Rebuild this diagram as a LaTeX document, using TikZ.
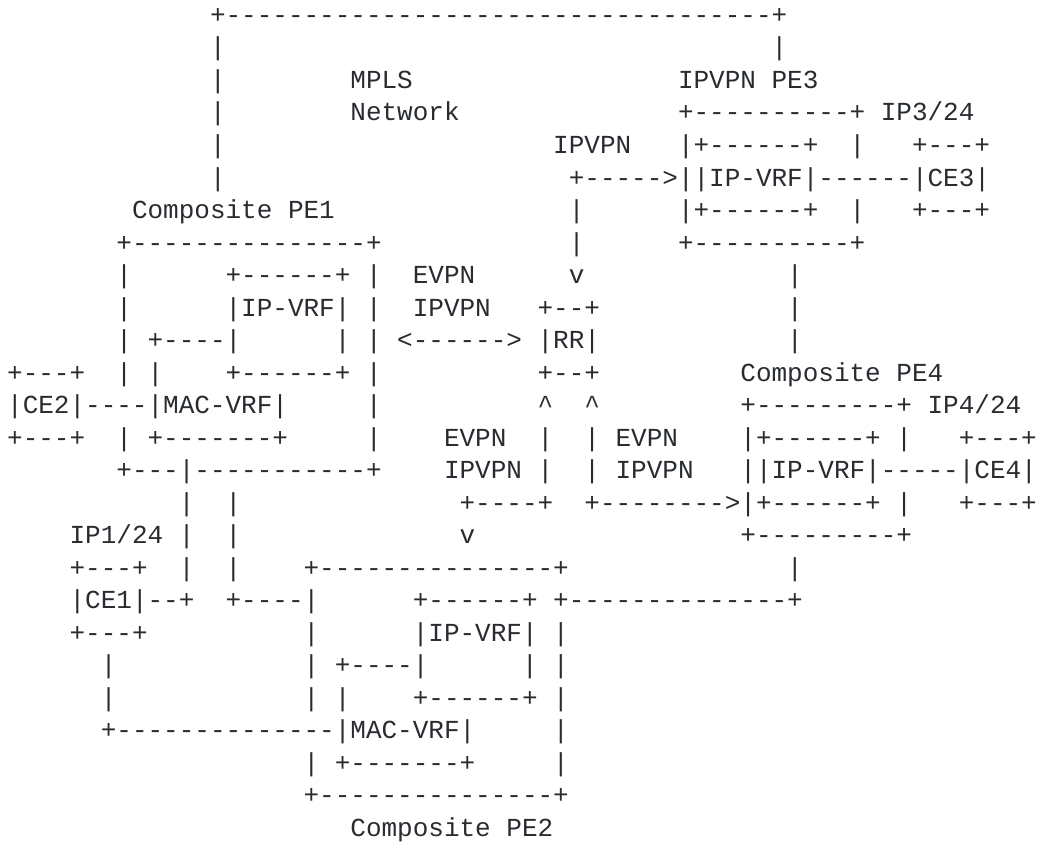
\documentclass[tikz,border=0pt]{standalone}
\usepackage{fontspec}
\setmonofont{Liberation Mono}
\definecolor{ink}{RGB}{40,44,48}
\begin{document}
\begin{tikzpicture}[x=11.7pt,y=-24.375pt,
  txt/.style={anchor=base west,inner sep=0pt,outer sep=0pt,text=ink,
    font=\ttfamily\fontsize{19.5pt}{24pt}\selectfont}]
\useasboundingbox[fill=white] (-0.4615,-0.7231) rectangle (66.2051,25.1538);
% row 0
\node[txt] (r0a) at (13,0) {+-----------------------------------+};
% row 1
\node[txt] (r1a) at (13,1) {|};
\node[txt] (r1b) at (49,1) {|};
% row 2
\node[txt] (r2a) at (13,2) {|};
\node[txt] (r2b) at (22,2) {MPLS};
\node[txt] (r2c) at (43,2) {IPVPN~PE3};
% row 3
\node[txt] (r3a) at (13,3) {|};
\node[txt] (r3b) at (22,3) {Network};
\node[txt] (r3c) at (43,3) {+----------+~IP3/24};
% row 4
\node[txt] (r4a) at (13,4) {|};
\node[txt] (r4b) at (35,4) {IPVPN};
\node[txt] (r4c) at (43,4) {|+------+~~|~~~+---+};
% row 5
\node[txt] (r5a) at (13,5) {|};
\node[txt] (r5b) at (36,5) {+----->||IP-VRF|------|CE3|};
% row 6
\node[txt] (r6a) at (8,6) {Composite~PE1};
\node[txt] (r6b) at (36,6) {|};
\node[txt] (r6c) at (43,6) {|+------+~~|~~~+---+};
% row 7
\node[txt] (r7a) at (7,7) {+---------------+};
\node[txt] (r7b) at (36,7) {|};
\node[txt] (r7c) at (43,7) {+----------+};
% row 8
\node[txt] (r8a) at (7,8) {|};
\node[txt] (r8b) at (14,8) {+------+};
\node[txt] (r8c) at (23,8) {|};
\node[txt] (r8d) at (26,8) {EVPN};
\node[txt] (r8e) at (36,8) {v};
\node[txt] (r8f) at (50,8) {|};
% row 9
\node[txt] (r9a) at (7,9) {|};
\node[txt] (r9b) at (14,9) {|IP-VRF|};
\node[txt] (r9c) at (23,9) {|};
\node[txt] (r9d) at (26,9) {IPVPN};
\node[txt] (r9e) at (34,9) {+--+};
\node[txt] (r9f) at (50,9) {|};
% row 10
\node[txt] (r10a) at (7,10) {|};
\node[txt] (r10b) at (9,10) {+----|};
\node[txt] (r10c) at (21,10) {|};
\node[txt] (r10d) at (23,10) {|};
\node[txt] (r10e) at (25,10) {<------>};
\node[txt] (r10f) at (34,10) {|RR|};
\node[txt] (r10g) at (50,10) {|};
% row 11
\node[txt] (r11a) at (0,11) {+---+};
\node[txt] (r11b) at (7,11) {|};
\node[txt] (r11c) at (9,11) {|};
\node[txt] (r11d) at (14,11) {+------+};
\node[txt] (r11e) at (23,11) {|};
\node[txt] (r11f) at (34,11) {+--+};
\node[txt] (r11g) at (47,11) {Composite~PE4};
% row 12
\node[txt] (r12a) at (0,12) {|CE2|----|MAC-VRF|};
\node[txt] (r12b) at (23,12) {|};
\node[txt] (r12c) at (34,12) {\textasciicircum};
\node[txt] (r12d) at (37,12) {\textasciicircum};
\node[txt] (r12e) at (47,12) {+---------+~IP4/24};
% row 13
\node[txt] (r13a) at (0,13) {+---+};
\node[txt] (r13b) at (7,13) {|};
\node[txt] (r13c) at (9,13) {+-------+};
\node[txt] (r13d) at (23,13) {|};
\node[txt] (r13e) at (28,13) {EVPN};
\node[txt] (r13f) at (34,13) {|};
\node[txt] (r13g) at (37,13) {|};
\node[txt] (r13h) at (39,13) {EVPN};
\node[txt] (r13i) at (47,13) {|+------+~|~~~+---+};
% row 14
\node[txt] (r14a) at (7,14) {+---|-----------+};
\node[txt] (r14b) at (28,14) {IPVPN};
\node[txt] (r14c) at (34,14) {|};
\node[txt] (r14d) at (37,14) {|};
\node[txt] (r14e) at (39,14) {IPVPN};
\node[txt] (r14f) at (47,14) {||IP-VRF|-----|CE4|};
% row 15
\node[txt] (r15a) at (11,15) {|};
\node[txt] (r15b) at (14,15) {|};
\node[txt] (r15c) at (29,15) {+----+};
\node[txt] (r15d) at (37,15) {+-------->|+------+~|~~~+---+};
% row 16
\node[txt] (r16a) at (4,16) {IP1/24};
\node[txt] (r16b) at (11,16) {|};
\node[txt] (r16c) at (14,16) {|};
\node[txt] (r16d) at (29,16) {v};
\node[txt] (r16e) at (47,16) {+---------+};
% row 17
\node[txt] (r17a) at (4,17) {+---+};
\node[txt] (r17b) at (11,17) {|};
\node[txt] (r17c) at (14,17) {|};
\node[txt] (r17d) at (19,17) {+---------------+};
\node[txt] (r17e) at (50,17) {|};
% row 18
\node[txt] (r18a) at (4,18) {|CE1|--+};
\node[txt] (r18b) at (14,18) {+----|};
\node[txt] (r18c) at (26,18) {+------+};
\node[txt] (r18d) at (35,18) {+--------------+};
% row 19
\node[txt] (r19a) at (4,19) {+---+};
\node[txt] (r19b) at (19,19) {|};
\node[txt] (r19c) at (26,19) {|IP-VRF|};
\node[txt] (r19d) at (35,19) {|};
% row 20
\node[txt] (r20a) at (6,20) {|};
\node[txt] (r20b) at (19,20) {|};
\node[txt] (r20c) at (21,20) {+----|};
\node[txt] (r20d) at (33,20) {|};
\node[txt] (r20e) at (35,20) {|};
% row 21
\node[txt] (r21a) at (6,21) {|};
\node[txt] (r21b) at (19,21) {|};
\node[txt] (r21c) at (21,21) {|};
\node[txt] (r21d) at (26,21) {+------+};
\node[txt] (r21e) at (35,21) {|};
% row 22
\node[txt] (r22a) at (6,22) {+--------------|MAC-VRF|};
\node[txt] (r22b) at (35,22) {|};
% row 23
\node[txt] (r23a) at (19,23) {|};
\node[txt] (r23b) at (21,23) {+-------+};
\node[txt] (r23c) at (35,23) {|};
% row 24
\node[txt] (r24a) at (19,24) {+---------------+};
% row 25
\node[txt] (r25a) at (22,25) {Composite~PE2};
\end{tikzpicture}
\end{document}
